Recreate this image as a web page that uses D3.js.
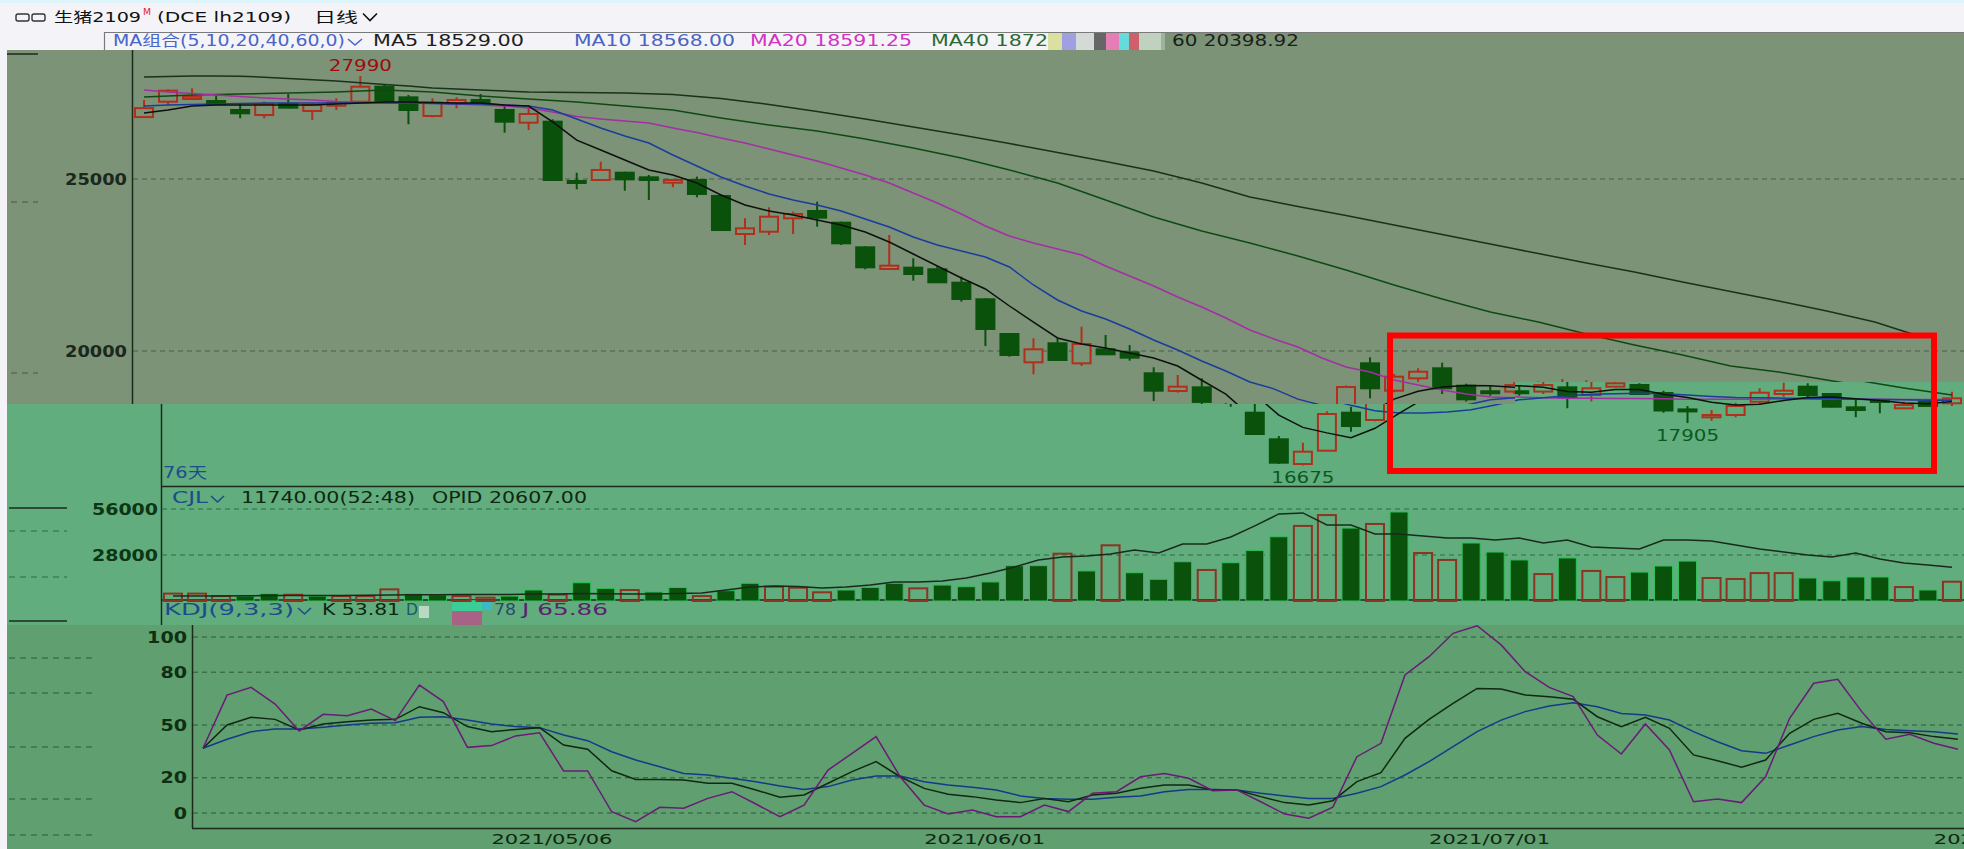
<!DOCTYPE html>
<html><head><meta charset="utf-8">
<script src="https://cdn.jsdelivr.net/npm/d3@7"></script>
<style>body{margin:0;background:#f4f4f8;overflow:hidden}svg{display:block}</style>
</head><body><svg id="c" width="1964" height="849"></svg>
<script>
// ---------------- DATA ----------------
const candleOpen = [26800,27247,27326,27267,27006,26860,27180,26977,27130,27247,
 27683,27374,26831,27200,27297,27006,26637,26666,24942,24971,
 25183,25049,24893,24971,24506,23401,23468,23857,24070,23730,
 23014,22384,22422,22375,21986,21503,20494,19671,20224,19642,
 20049,19962,19351,18837,18944,18206,17433,16715,17102,18206,
 17994,19642,18846,19206,19497,18991,18830,18820,18944,18721,
 18963,19012,18779,18302,18073,18140,18526,18750,18963,18750,
 18363,18576,18334,18526,18480];
const candleHigh = [27300,27607,27636,27470,27200,27250,27470,27200,27345,27990,
 27733,27442,27345,27374,27470,27150,27100,26735,25183,25503,
 25212,25116,25000,25070,24560,23857,24177,24050,24340,23760,
 23050,23372,22695,22471,22160,21530,20500,20369,20369,20706,
 20465,20175,19526,19302,19206,18480,17529,17334,18250,18380,
 19000,19817,19331,19497,19660,19050,18980,19100,19108,19186,
 19150,19060,18846,18400,18285,18497,18916,19080,19061,18780,
 18576,18600,18526,18580,18817];
const candleLow = [26770,27151,27297,27150,26765,26765,27050,26715,27006,27218,
 27247,26590,26793,27055,27180,26346,26424,24971,24700,24960,
 24660,24390,24760,24468,23500,23081,23372,23401,23613,23081,
 22375,22375,22044,21990,21433,20145,19834,19323,19720,19564,
 19880,19719,18547,18788,18380,17560,16715,16675,17102,17654,
 17960,18625,18800,19108,18750,18530,18700,18750,18334,18530,
 18950,18740,18206,17905,17974,18073,18459,18672,18654,18360,
 18073,18188,18320,18380,18401];
const candleClose = [27060,27567,27393,27171,26910,27180,27073,27150,27218,27683,
 27267,27006,27218,27297,27200,26666,26890,24971,24893,25262,
 24990,24971,24971,24564,23517,23566,23904,23983,23875,23130,
 22433,22480,22238,21997,21512,20640,19884,20049,19739,20204,
 19904,19806,18846,18963,18520,17587,16753,17073,18168,17819,
 18953,18916,19253,19398,18916,18596,18800,19010,18654,18916,
 19061,18750,18270,18256,18140,18401,18788,18846,18721,18380,
 18285,18526,18430,18401,18625];
const ma5 = [26919,27006,27122,27151,27151,27151,27151,27151,27180,27209,
 27238,27238,27224,27209,27209,27151,27122,26660,26130,25843,
 25552,25262,25116,24884,24535,24244,24070,23953,23808,23663,
 23459,23169,22820,22471,22122,21802,21308,20843,20378,20204,
 20087,19942,19797,19564,19150,18744,18134,17779,17620,17480,
 17753,18186,18600,18830,18950,19000,18990,18944,18820,18800,
 18880,18880,18740,18650,18510,18430,18450,18560,18650,18660,
 18610,18560,18490,18470,18529];
const ma10 = [27122,27151,27166,27180,27195,27209,27209,27209,27209,27209,
 27209,27209,27195,27180,27180,27151,27122,27006,26744,26483,
 26250,26047,25698,25378,25058,24797,24564,24390,24244,24070,
 23837,23605,23314,23081,22907,22733,22442,21919,21483,21163,
 20930,20640,20320,20029,19709,19419,19100,18900,18600,18420,
 18260,18200,18200,18230,18290,18430,18580,18640,18700,18740,
 18760,18770,18760,18720,18680,18650,18640,18630,18620,18610,
 18600,18590,18580,18570,18568];
const ma20 = [27587,27529,27486,27442,27398,27355,27326,27297,27253,27238,
 27224,27209,27209,27180,27151,27122,27064,26948,26817,26744,
 26686,26628,26483,26352,26192,26047,25872,25698,25523,25320,
 25116,24884,24593,24302,23983,23634,23343,23140,22965,22791,
 22471,22180,21890,21570,21279,20959,20610,20349,20116,19797,
 19535,19390,19157,19012,18866,18750,18663,18640,18630,18630,
 18620,18620,18610,18600,18600,18600,18600,18605,18605,18600,
 18600,18595,18592,18591,18591];
const ma40 = [27384,27413,27442,27456,27471,27485,27500,27515,27529,27558,
 27587,27558,27529,27471,27413,27370,27326,27282,27238,27180,
 27122,27064,27006,26890,26773,26670,26570,26480,26395,26280,
 26163,26030,25901,25756,25611,25436,25262,25073,24884,24637,
 24390,24143,23895,23690,23488,23314,23140,22951,22762,22560,
 22355,22137,21919,21715,21512,21323,21134,20990,20843,20670,
 20494,20335,20175,20030,19884,19724,19564,19477,19390,19273,
 19157,19040,18924,18822,18721];
const ma60 = [27965,27980,27994,27994,27990,27960,27922,27885,27849,27800,
 27747,27700,27645,27615,27587,27558,27529,27522,27515,27508,
 27500,27480,27456,27400,27340,27255,27166,27065,26962,26855,
 26744,26630,26512,26395,26279,26155,26032,25900,25770,25640,
 25509,25370,25233,25060,24884,24680,24477,24340,24201,24070,
 23939,23800,23663,23525,23387,23250,23110,22970,22834,22695,
 22558,22425,22296,22150,22006,21870,21730,21590,21454,21310,
 21163,21000,20843,20620,20399];
const volume = [4500,4500,3000,3000,4500,3800,3000,3000,3000,7100,
 4500,3800,3000,2000,3000,6700,3900,11100,7700,6700,
 5500,8200,3000,6300,10800,8700,8100,5300,6700,8300,
 10800,7700,9700,8700,11600,21500,21500,28800,18300,33900,
 17200,13200,23900,18900,23300,30800,39100,45700,52300,44400,
 46900,54200,29200,25000,35300,29800,25000,16400,26200,18300,
 14600,17600,21300,24300,14000,13400,17000,17000,14000,12300,
 14600,14600,8500,6700,11740];
const openInterest = [3000,3100,3100,3200,3300,3300,3400,3400,3500,3700,
 3800,3800,3900,3900,4000,4200,4200,4500,4400,4300,
 4300,4600,4900,6700,8500,9100,8800,7900,8500,9700,
 11600,11600,12200,14000,17000,20700,25000,26800,27400,28600,
 31000,29200,34700,34700,39000,45700,53000,53600,46300,46300,
 40800,40800,39600,38300,38300,37100,38300,35300,37100,32900,
 32300,31700,37100,37100,36500,34100,31700,29800,28000,26800,
 29200,25600,23100,21900,20607];
const kdjK = [36.8,50.0,54.4,53.2,47.2,50.6,51.9,52.8,53.2,60.4,
 57.0,49.1,46.2,47.5,48.5,38.6,36.2,24.0,19.1,19.1,
 18.8,16.9,16.9,13.1,8.9,10.2,16.9,23.5,29.2,20.6,
 14.0,10.6,9.3,7.4,5.9,8.3,6.4,10.2,11.2,14.0,
 15.9,15.9,13.1,13.1,9.3,5.9,4.5,7.0,17.8,22.9,
 42.4,53.2,62.3,70.8,70.5,67.0,66.1,64.6,54.7,49.1,
 54.4,48.1,33.0,29.7,26.0,30.1,45.3,53.2,56.6,51.0,
 46.2,45.6,43.4,41.9];
const kdjD = [36.8,41.9,46.2,47.7,47.7,48.7,50.0,51.0,51.3,54.4,
 54.7,52.8,50.6,49.1,48.5,44.3,41.1,34.8,30.1,26.3,
 22.4,21.6,19.7,17.8,15.3,13.4,15.0,18.8,21.0,21.0,
 17.8,15.9,14.6,13.1,9.7,8.3,7.8,7.8,8.9,9.7,
 12.1,13.4,13.4,13.1,11.2,9.7,8.3,8.3,11.2,15.0,
 21.6,29.2,37.7,46.2,52.8,57.6,60.8,62.7,60.4,56.6,
 55.7,52.8,46.2,40.5,35.4,33.9,38.6,43.4,47.2,49.1,
 47.5,46.8,46.2,44.9];
const kdjJ = [36.8,67.0,71.4,61.9,46.6,56.1,55.3,59.1,52.5,72.7,
 63.3,37.3,38.3,43.8,45.6,23.9,23.9,0.7,-4.9,3.2,
 2.7,8.3,12.1,5.1,-2.1,4.5,24.4,33.9,43.4,20.6,
 4.5,-0.6,1.7,-2.1,-2.1,4.5,0.8,11.2,12.1,20.6,
 22.5,19.7,12.7,13.1,6.4,-0.6,-3.0,3.3,32.0,39.6,
 78.4,88.8,102.1,106.4,95.5,80.3,71.4,66.1,44.3,33.5,
 50.6,35.8,6.4,8.0,5.9,20.6,53.8,73.7,76.0,57.6,
 41.9,44.7,39.6,36.2];
const priceTicks = [25000, 20000];
const volumeTicks = [56000, 28000];
const kdjTicks = [100, 80, 50, 20, 0];
const dateLabels = ["2021/05/06", "2021/06/01", "2021/07/01", "2021/08/02"];
const dateIndex = [12, 30, 51, 72];
const extremeLabels = [
  {text: "27990", index: 9, value: 27990, kind: "high"},
  {text: "16675", index: 47, value: 16675, kind: "low"},
  {text: "17905", index: 63, value: 17905, kind: "low"}
];
const maLegend = [
  {text: "MA5 18529.00", color: "#1e1e1e", x: 373, len: 151},
  {text: "MA10 18568.00", color: "#4a64c0", x: 574, len: 161},
  {text: "MA20 18591.25", color: "#d233c4", x: 750, len: 162},
  {text: "MA40 1872", color: "#2b6a33", x: 931, len: 117},
  {text: "60 20398.92", color: "#1a1f1a", x: 1172, len: 127}
];

// ---------------- SETUP ----------------
const svg = d3.select("#c");
const W = 1964;
const FONT = "'DejaVu Sans','Noto Sans CJK SC',sans-serif";
const C = {
  page: "#f4f4f8", gray: "#7c9378", green: "#61ad7e", kdj: "#5f9f70",
  up: "#b0301c", down: "#0a520c", axis: "#1c2a1c"
};
const n = candleClose.length;
const step = 24.04;
const xUpper = d3.scaleLinear().domain([0, 1]).range([144, 144 + step]);
const xLower = d3.scaleLinear().domain([0, 1]).range([173, 173 + step]);
const xKdj = d3.scaleLinear().domain([0, 1]).range([203, 203 + step]);
const yPrice = d3.scaleLinear().domain([20000, 25000]).range([351, 179]);
const yVol = d3.scaleLinear().domain([0, 56000]).range([601, 509]);
const yKdj = d3.scaleLinear().domain([0, 100]).range([813, 637]);
const barW = 20;
const SPLIT_Y = 404;

function label(g, s, x, y, o = {}) {
  const t = g.append("text").attr("x", x).attr("y", y).text(s)
    .attr("font-family", o.family || FONT).attr("font-size", o.size || 15)
    .attr("font-weight", o.weight || "normal").attr("fill", o.color || "#111")
    .attr("dominant-baseline", "central").attr("text-anchor", o.anchor || "start");
  if (o.len) t.attr("textLength", o.len).attr("lengthAdjust", "spacingAndGlyphs");
  return t;
}
function chevron(g, x, y, w, h, color) {
  g.append("path").attr("d", `M${x},${y - h / 2}L${x + w / 2},${y + h / 2}L${x + w},${y - h / 2}`)
    .attr("fill", "none").attr("stroke", color).attr("stroke-width", 1.6);
}
function hline(g, x1, x2, y, color, dash, w) {
  g.append("line").attr("x1", x1).attr("x2", x2).attr("y1", y).attr("y2", y)
    .attr("stroke", color).attr("stroke-width", w || 1).attr("stroke-dasharray", dash || null);
}
function vline(g, x, y1, y2, color, w) {
  g.append("line").attr("x1", x).attr("x2", x).attr("y1", y1).attr("y2", y2)
    .attr("stroke", color).attr("stroke-width", w || 1.5);
}

const defs = svg.append("defs");
defs.append("clipPath").attr("id", "clipUpper").append("rect").attr("x", 133).attr("y", 50).attr("width", W - 133).attr("height", SPLIT_Y - 50);
const cl = defs.append("clipPath").attr("id", "clipLower");
cl.append("rect").attr("x", 162).attr("y", SPLIT_Y).attr("width", W - 162).attr("height", 82);
cl.append("rect").attr("x", 1515).attr("y", 382).attr("width", W - 1515).attr("height", 104);
defs.append("clipPath").attr("id", "clipKdj").append("rect").attr("x", 193).attr("y", 625).attr("width", W - 193).attr("height", 203);

// ---------------- BACKGROUNDS ----------------
svg.append("rect").attr("width", W).attr("height", 849).attr("fill", C.page);
svg.append("rect").attr("width", W).attr("height", 3).attr("fill", "#def6fb");
svg.append("rect").attr("x", 7).attr("y", 50).attr("width", W - 7).attr("height", SPLIT_Y - 50).attr("fill", C.gray);
svg.append("rect").attr("x", 1161).attr("y", 32).attr("width", W - 1161).attr("height", 18).attr("fill", C.gray);

// header
const hdr = svg.append("g");
hdr.append("rect").attr("x", 16).attr("y", 14).attr("width", 13).attr("height", 7).attr("rx", 2).attr("fill", "none").attr("stroke", "#333").attr("stroke-width", 1.4);
hdr.append("rect").attr("x", 32).attr("y", 14).attr("width", 13).attr("height", 7).attr("rx", 2).attr("fill", "none").attr("stroke", "#333").attr("stroke-width", 1.4);
label(hdr, "生猪2109", 54, 17, {size: 14, len: 87, color: "#111"});
label(hdr, "M", 143, 12, {size: 9, len: 8, color: "#e02424"});
label(hdr, "(DCE lh2109)", 157, 17, {size: 14, len: 134, color: "#111"});
label(hdr, "日线", 314, 17, {size: 14, len: 44, color: "#111"});
chevron(hdr, 363, 17, 14, 7, "#111");
hline(hdr, 104, W, 32.5, "#7a7a7a", null, 1.2);
vline(hdr, 104.5, 32, 50, "#7a7a7a", 1.2);
label(hdr, "MA组合(5,10,20,40,60,0)", 113, 41, {size: 15, len: 232, color: "#4a64c8"});
chevron(hdr, 348, 42, 14, 6, "#4a64c8");
maLegend.forEach(m => label(hdr, m.text, m.x, 41, {size: 15, len: m.len, color: m.color}));
// glitch strip in legend
[[1048, "#cfd77a"], [1062, "#7a7ad8"], [1076, "#c6cec6"], [1094, "#2a2a2a"], [1106, "#e04c9a"], [1119, "#2ad0d0"], [1129, "#c02030"], [1139, "#a9c2a8"]]
  .forEach(([x, c], i, a) => hdr.append("rect").attr("x", x).attr("y", 33).attr("width", (a[i + 1] ? a[i + 1][0] : 1165) - x).attr("height", 17).attr("fill", c).attr("opacity", 0.7));

// left remnants in gray pane
const left = svg.append("g");
hline(left, 7, 38, 54, C.axis, null, 1.5);
hline(left, 11, 38, 202, "#465646", "6,5");
hline(left, 11, 38, 373, "#465646", "6,5");

// gray grid + axis
const grayG = svg.append("g");
priceTicks.forEach(t => {
  hline(grayG, 133, W, yPrice(t), "#4a5a4a", "5,4");
  label(grayG, String(t), 127, yPrice(t), {size: 16, weight: "bold", anchor: "end", len: 62, color: "#1b281b"});
});
vline(grayG, 132.5, 50, SPLIT_Y, C.axis);

// ---------------- PRICE LAYER ----------------
function drawPrice(g, x, bg, showLabel) {
  const idx = d3.range(n);
  const up = i => candleClose[i] >= candleOpen[i];
  g.selectAll(".wick").data(idx).join("line")
    .attr("x1", i => x(i)).attr("x2", i => x(i))
    .attr("y1", i => yPrice(candleHigh[i])).attr("y2", i => yPrice(candleLow[i]))
    .attr("stroke", i => up(i) ? C.up : C.down).attr("stroke-width", 2);
  g.selectAll(".body").data(idx).join("rect")
    .attr("x", i => x(i) - barW / 2 + 1)
    .attr("y", i => yPrice(Math.max(candleOpen[i], candleClose[i])))
    .attr("width", barW - 2)
    .attr("height", i => Math.max(2, yPrice(Math.min(candleOpen[i], candleClose[i])) - yPrice(Math.max(candleOpen[i], candleClose[i]))))
    .attr("fill", i => up(i) ? bg : C.down)
    .attr("stroke", i => up(i) ? C.up : C.down).attr("stroke-width", 2);
  const lines = [[ma60, "#17331a"], [ma40, "#0f4a12"], [ma20, "#a42ea4"], [ma10, "#1b3c9c"], [ma5, "#0c110c"]];
  lines.forEach(([arr, col]) => {
    g.append("path").datum(arr)
      .attr("d", d3.line().x((d, i) => x(i)).y(d => yPrice(d)))
      .attr("fill", "none").attr("stroke", col).attr("stroke-width", 1.5);
  });
  extremeLabels.forEach(e => {
    const yy = e.kind === "high" ? yPrice(e.value) - 11 : yPrice(e.value) + 12;
    if (!showLabel(yy)) return;
    label(g, e.text, x(e.index), yy, {size: 16, anchor: "middle", len: 63, color: e.kind === "high" ? "#9c0c0c" : "#0b5a1d"});
  });
}
const upperG = svg.append("g").attr("clip-path", "url(#clipUpper)");
drawPrice(upperG, xUpper, C.gray, yy => yy < SPLIT_Y);

// ---------------- GREEN REGION ----------------
svg.append("rect").attr("x", 7).attr("y", SPLIT_Y).attr("width", W - 7).attr("height", 625 - SPLIT_Y).attr("fill", C.green);
svg.append("rect").attr("x", 1515).attr("y", 382).attr("width", W - 1515).attr("height", SPLIT_Y - 382).attr("fill", C.green);
const lowerG = svg.append("g").attr("clip-path", "url(#clipLower)");
drawPrice(lowerG, xLower, C.green, yy => yy > SPLIT_Y);

const gp = svg.append("g");
vline(gp, 161.5, SPLIT_Y, 625, C.axis);
hline(gp, 161, W, 486.5, C.axis, null, 1.5);
label(gp, "76天", 163, 473, {size: 15, len: 44, color: "#1c4c8c"});
hline(gp, 9, 67, 508, C.axis, null, 1.5);
hline(gp, 9, 67, 531, "#2f6a40", "6,5");
hline(gp, 9, 67, 577, "#2f6a40", "6,5");

// volume pane
volumeTicks.forEach(t => {
  hline(gp, 162, W, yVol(t), "#2e6a40", "5,4");
  label(gp, String(t), 158, yVol(t), {size: 16, weight: "bold", anchor: "end", len: 66, color: "#0d3615"});
});
const volG = svg.append("g");
volG.selectAll("rect").data(volume).join("rect")
  .attr("x", (d, i) => xLower(i) - barW / 2 + 1).attr("y", d => yVol(d))
  .attr("width", barW - 2).attr("height", d => yVol(0) - yVol(d))
  .attr("fill", (d, i) => candleClose[i] >= candleOpen[i] ? "none" : C.down)
  .attr("stroke", (d, i) => candleClose[i] >= candleOpen[i] ? "#8c3322" : "#2fc25a")
  .attr("stroke-width", (d, i) => candleClose[i] >= candleOpen[i] ? 2 : 1);
volG.append("path").datum(openInterest)
  .attr("d", d3.line().x((d, i) => xLower(i)).y(d => yVol(d)))
  .attr("fill", "none").attr("stroke", "#1a2a1a").attr("stroke-width", 1.5);
hline(gp, 161, W, 600, C.axis, null, 1.5);

label(gp, "CJL", 172, 498, {size: 15, len: 36, color: "#1c4c8c"});
chevron(gp, 211, 499, 13, 6, "#1c4c8c");
label(gp, "11740.00(52:48)", 241, 498, {size: 15, len: 174, color: "#112611"});
label(gp, "OPID 20607.00", 432, 498, {size: 15, len: 155, color: "#112611"});

label(gp, "KDJ(9,3,3)", 164, 610, {size: 15, len: 130, color: "#1c4c8c"});
chevron(gp, 298, 611, 13, 6, "#1c4c8c");
label(gp, "K 53.81", 322, 610, {size: 15, len: 78, color: "#112611"});
label(gp, "D", 406, 610, {size: 15, len: 12, color: "#1a5a6a"});
[[419, 606, 10, 12, "#d8e8d8"], [452, 600, 30, 11, "#30d8a0"], [452, 611, 30, 14, "#c04a8a"], [482, 602, 10, 8, "#2ac0e0"]]
  .forEach(([x, y, w, h, c]) => gp.append("rect").attr("x", x).attr("y", y).attr("width", w).attr("height", h).attr("fill", c).attr("opacity", 0.75));
label(gp, "78", 494, 610, {size: 15, len: 22, color: "#2a4a6a"});
label(gp, "J 65.86", 522, 610, {size: 15, len: 86, color: "#5a236e"});

// ---------------- KDJ PANE ----------------
const kg = svg.append("g");
kg.append("rect").attr("x", 7).attr("y", 625).attr("width", W - 7).attr("height", 224).attr("fill", C.kdj);
hline(kg, 9, 67, 621, C.axis, null, 1.5);
[658, 693, 747, 799, 835].forEach(y => hline(kg, 9, 96, y, "#2d5a38", "6,5"));
kdjTicks.forEach(t => {
  hline(kg, 193, W, yKdj(t), "#2d5a38", "5,4");
  label(kg, String(t), 187, yKdj(t), {size: 16, weight: "bold", anchor: "end", len: String(t).length * 13.3, color: "#0f2f12"});
});
vline(kg, 192.5, 625, 828, C.axis);
hline(kg, 192, W, 828.5, C.axis, null, 1.5);
const kl = svg.append("g").attr("clip-path", "url(#clipKdj)");
[[kdjD, "#16398a"], [kdjK, "#112811"], [kdjJ, "#6c1a78"]].forEach(([arr, col]) => {
  kl.append("path").datum(arr)
    .attr("d", d3.line().x((d, i) => xKdj(i)).y(d => yKdj(d)))
    .attr("fill", "none").attr("stroke", col).attr("stroke-width", 1.5);
});
dateLabels.forEach((s, k) => label(kg, s, xKdj(dateIndex[k]), 839, {size: 14.5, len: 121, color: "#112611"}));

// ---------------- RED BOX ----------------
svg.append("rect").attr("x", 1390).attr("y", 335.5).attr("width", 544).attr("height", 135.5)
  .attr("fill", "none").attr("stroke", "#ff0000").attr("stroke-width", 6);
</script></body></html>
